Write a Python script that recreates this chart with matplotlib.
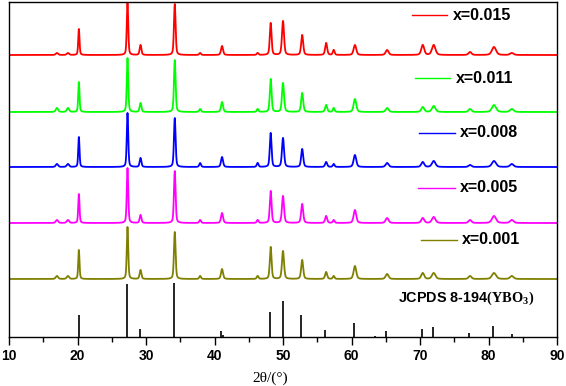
import numpy as np
import matplotlib
matplotlib.use('Agg')
import matplotlib.pyplot as plt
from matplotlib.ticker import MultipleLocator

plt.rcParams['font.family'] = ['Liberation Sans', 'DejaVu Sans']
plt.rcParams['mathtext.fontset'] = 'custom'
plt.rcParams['mathtext.rm'] = 'Liberation Serif:bold'

# Peak positions (2theta) seen in all five patterns, and their approximate widths (FWHM, deg)
peak_pos = [17.0, 18.6, 20.2, 27.3, 29.2, 34.2, 37.9, 41.1, 46.3, 48.2, 50.0, 52.8,
            56.3, 57.4, 60.5, 65.2, 70.4, 72.0, 77.3, 80.8, 83.4]
peak_fwhm = [0.4, 0.4, 0.22, 0.25, 0.3, 0.28, 0.3, 0.35, 0.3, 0.3, 0.35, 0.35,
             0.35, 0.3, 0.45, 0.5, 0.5, 0.6, 0.5, 0.7, 0.6]

# Peak intensities (arb. units) for each doping level
labels = ['x=0.001', 'x=0.005', 'x=0.008', 'x=0.011', 'x=0.015']
colors = ['#808000', '#ff00ff', '#0000ff', '#00ff00', '#ff0000']
baselines = [58, 114, 170, 225, 282]
heights = [
    [3, 3, 29, 52, 9, 47, 3, 10, 3, 32, 28, 19, 7, 3, 13, 5, 6, 6, 3, 6, 3],   # 0.001
    [3, 3, 29, 55, 8, 52, 3, 10, 3, 32, 27, 19, 7, 3, 13, 5, 5, 6, 3, 7, 3],   # 0.005
    [3, 3, 30, 54, 9, 49, 4, 10, 4, 34, 29, 18, 5, 3, 12, 4, 5, 6, 2, 6, 3],   # 0.008
    [4, 4, 30, 54, 9, 52, 3, 10, 3, 33, 29, 19, 7, 4, 13, 4, 5, 6, 3, 7, 3],   # 0.011
    [2, 2, 26, 52, 10, 51, 2, 9, 2, 32, 34, 20, 12, 5, 10, 5, 10, 10, 3, 8, 2], # 0.015
]

# JCPDS 8-194 (YBO3) reference lines
ref_pos = [20.2, 27.2, 29.1, 34.1, 41.0, 41.3, 48.1, 49.95, 52.7, 56.2, 60.3, 63.4,
           65.0, 70.3, 71.9, 77.2, 80.6, 83.4]
ref_int = [22, 53, 8, 54, 6, 2, 25, 36, 22, 7, 14, 1, 6, 8, 10, 4, 11, 3]

# legend entries: (line x0, line x1, y, text x) in axes fraction
legend_pos = [(0.752, 0.818, 0.290, 0.827),
              (0.746, 0.814, 0.445, 0.823),
              (0.748, 0.814, 0.609, 0.823),
              (0.741, 0.805, 0.773, 0.816),
              (0.735, 0.799, 0.961, 0.810)]

two_theta = np.linspace(10, 90, 4001)


def pattern(hs):
    y = np.zeros_like(two_theta)
    for p, w, h in zip(peak_pos, peak_fwhm, hs):
        g = np.exp(-4 * np.log(2) * ((two_theta - p) / w) ** 2)
        lor = 1 / (1 + 4 * ((two_theta - p) / w) ** 2)
        y += h * (0.6 * g + 0.4 * lor)
    return y


fig = plt.figure(figsize=(5.66, 3.86), dpi=100)
ax = fig.add_axes([9 / 566, 49 / 386, 548 / 566, 335 / 386])

for lab, c, b, hs, lp in zip(labels, colors, baselines, heights, legend_pos):
    ax.plot(two_theta, b + pattern(hs), color=c, lw=1.3)
    ax.plot([lp[0], lp[1]], [lp[2], lp[2]], color=c, lw=1.0, transform=ax.transAxes)
    ax.text(lp[3], lp[2], lab, transform=ax.transAxes, ha='left', va='center',
            fontsize=11.5, fontweight='bold')

ax.vlines(ref_pos, 0, ref_int, color='black', lw=1.2)
ax.text(0.710, 0.116, r'JCPDS 8-194$\mathrm{(YBO_3)}$', transform=ax.transAxes,
        ha='left', va='center', fontsize=10.4, fontweight='bold')

ax.set_xlim(10, 90)
ax.set_ylim(0, 335)
ax.xaxis.set_major_locator(MultipleLocator(10))
ax.xaxis.set_minor_locator(MultipleLocator(5))
ax.tick_params(axis='x', which='major', direction='out', length=6, width=1, pad=3)
ax.tick_params(axis='x', which='minor', direction='out', length=3.5, width=1)
ax.set_yticks([])
for lbl in ax.get_xticklabels():
    lbl.set_fontweight('bold')
    lbl.set_fontsize(10)
for s in ax.spines.values():
    s.set_linewidth(1.0)

ax.set_xlabel('2θ/(°)', fontsize=11, family='Liberation Serif')
ax.xaxis.set_label_coords(0.476, -0.122)
ax.xaxis.label.set_va('center')

fig.savefig('out.png', dpi=100)
